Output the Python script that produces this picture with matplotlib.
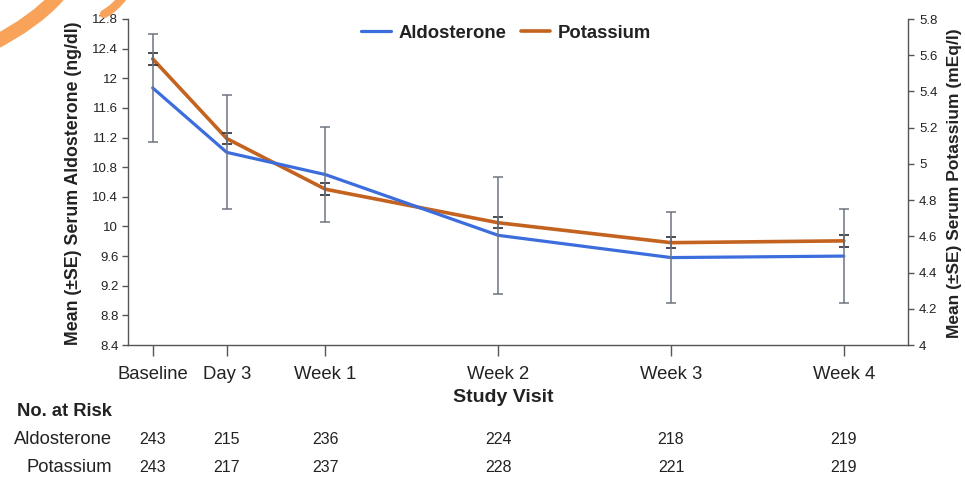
import matplotlib
matplotlib.use("Agg")
import matplotlib.pyplot as plt
from matplotlib.path import Path
from matplotlib.patches import PathPatch
from matplotlib.transforms import blended_transform_factory

plt.rcParams['font.family'] = ['Liberation Sans', 'DejaVu Sans']

# Study visits (position = study day)
visits = ["Baseline", "Day 3", "Week 1", "Week 2", "Week 3", "Week 4"]
visit_days = [0, 3, 7, 14, 21, 28]

# Mean serum aldosterone (ng/dl) and its standard error
aldo_mean = [11.87, 11.00, 10.70, 9.88, 9.58, 9.60]
aldo_se = [0.73, 0.77, 0.64, 0.79, 0.61, 0.63]

# Mean serum potassium (mEq/l) and its standard error
k_mean = [5.58, 5.14, 4.86, 4.675, 4.565, 4.575]
k_se = [0.033, 0.028, 0.033, 0.030, 0.030, 0.033]

# Number of patients at risk per visit
aldo_at_risk = [243, 215, 236, 224, 218, 219]
k_at_risk = [243, 217, 237, 228, 221, 219]

aldo_ticks = [8.4, 8.8, 9.2, 9.6, 10, 10.4, 10.8, 11.2, 11.6, 12, 12.4, 12.8]
k_ticks = [4, 4.2, 4.4, 4.6, 4.8, 5, 5.2, 5.4, 5.6, 5.8]

W, H = 965, 478
fig = plt.figure(figsize=(W / 100, H / 100), dpi=100)

def fx(px):
    return px / W

def fy(py):
    return 1 - py / H

ax = fig.add_axes([fx(128), fy(345), fx(908) - fx(128), fy(19) - fy(345)])
ax2 = ax.twinx()

blue = "#3c6ddc"
orange = "#c4621f"
err_col = "#6f7480"
spine_col = "#555555"
txt_col = "#222222"

# Potassium on the right axis
k_line, = ax2.plot(visit_days, k_mean, color=orange, lw=2.6, solid_capstyle="round",
                   zorder=2, label="Potassium")
ax2.errorbar(visit_days, k_mean, yerr=k_se, fmt="none", ecolor="#3a3d44",
             elinewidth=1.1, capsize=3.5, capthick=1.3, zorder=3)

# Aldosterone on the left axis, drawn above the twin axis
ax.set_zorder(ax2.get_zorder() + 1)
ax.patch.set_visible(False)
aldo_line, = ax.plot(visit_days, aldo_mean, color=blue, lw=2.3, solid_capstyle="round",
                     zorder=2, label="Aldosterone")
ax.errorbar(visit_days, aldo_mean, yerr=aldo_se, fmt="none", ecolor=err_col,
            elinewidth=1.1, capsize=3.5, capthick=1.1, zorder=3)

ax.set_xlim(-1.0, 30.6)
ax.set_ylim(8.4, 12.8)
ax2.set_ylim(4.0, 5.8)

ax.set_yticks(aldo_ticks)
ax.set_yticklabels([f"{t:g}" for t in aldo_ticks])
ax2.set_yticks(k_ticks)
ax2.set_yticklabels([f"{t:g}" for t in k_ticks])
ax.set_xticks(visit_days)
ax.set_xticklabels(visits)

for a in (ax, ax2):
    a.spines["top"].set_visible(False)
    for s in ("left", "right", "bottom"):
        a.spines[s].set_color(spine_col)
        a.spines[s].set_linewidth(1.0)
ax.spines["right"].set_visible(False)
ax2.spines["left"].set_visible(False)
ax2.spines["bottom"].set_visible(False)

ax.tick_params(axis="y", length=4, width=1, color=spine_col, labelsize=9.5,
               labelcolor=txt_col, pad=3)
ax2.tick_params(axis="y", length=4, width=1, color=spine_col, labelsize=9.5,
                labelcolor=txt_col, pad=4)
ax.tick_params(axis="x", length=8, width=1, color=spine_col, labelsize=13.3,
               labelcolor=txt_col, pad=7)

# Axis titles
fig.text(fx(74), fy(183), "Mean (\u00b1SE) Serum Aldosterone (ng/dl)", rotation=90,
         ha="center", va="center", fontsize=12.8, fontweight="bold", color=txt_col)
fig.text(fx(954), fy(183), "Mean (\u00b1SE) Serum Potassium (mEq/l)", rotation=90,
         ha="center", va="center", fontsize=12.5, fontweight="bold", color=txt_col)

fig.legend([aldo_line, k_line], ["Aldosterone", "Potassium"], loc="center",
           bbox_to_anchor=(fx(506), fy(33)), ncol=2, frameon=False,
           prop={"weight": "bold", "size": 13.3}, handlelength=1.6,
           handletextpad=0.4, columnspacing=0.8, labelcolor=txt_col)

fig.text(fx(503), fy(397), "Study Visit", ha="center", va="center",
         fontsize=14, fontweight="bold", color=txt_col)

# Patients at risk table
fig.text(fx(17), fy(411), "No. at Risk", ha="left", va="center",
         fontsize=13.2, fontweight="bold", color=txt_col)
fig.text(fx(112), fy(440), "Aldosterone", ha="right", va="center",
         fontsize=13.2, color=txt_col)
fig.text(fx(112), fy(467), "Potassium", ha="right", va="center",
         fontsize=13.2, color=txt_col)
tr = blended_transform_factory(ax.transData, fig.transFigure)
for d, a_n, k_n in zip(visit_days, aldo_at_risk, k_at_risk):
    fig.text(d, fy(440), str(a_n), transform=tr, ha="center", va="center",
             fontsize=11.5, color=txt_col)
    fig.text(d, fy(467), str(k_n), transform=tr, ha="center", va="center",
             fontsize=11.5, color=txt_col)

# Orange pen stroke in the top-left corner
def stroke(pts, lw):
    verts = [(fx(x), fy(y)) for x, y in pts]
    path = Path(verts, [Path.MOVETO, Path.CURVE3, Path.CURVE3])
    patch = PathPatch(path, transform=fig.transFigure, fill=False,
                      edgecolor="#f8a25a", lw=lw, capstyle="round", zorder=10)
    fig.add_artist(patch)

stroke([(-8, 44), (35, 22), (58, -4)], 10)
stroke([(104, 14), (115, 8), (124, -4)], 6)

fig.savefig("out.png", dpi=100)
